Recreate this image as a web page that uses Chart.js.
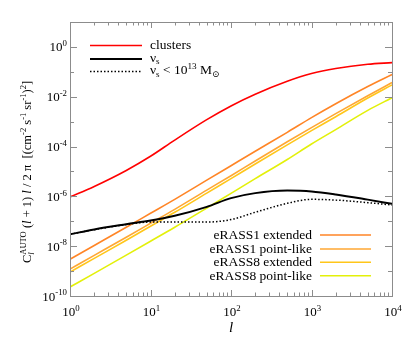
<!DOCTYPE html>
<html>
<head>
<meta charset="utf-8">
<script src="https://cdn.jsdelivr.net/npm/chart.js@4"></script>
<style>
  body { margin: 0; background: #fff; }
  canvas { display: block; }
</style>
</head>
<body>
<canvas id="chart" width="413" height="344"></canvas>
<script>
// multipole l and C_l (l+1) l / 2pi for each component
const ells = [1, 2, 5, 10, 20, 50, 100, 200, 500, 1000, 2000, 5000, 10000];
const clusters = [9.5e-7, 2.51e-6, 1.1e-5, 4.07e-5, 1.82e-4, 1.2e-3, 4.27e-3, 0.0126, 0.0417, 0.0851, 0.135, 0.2, 0.234];
const nuS = [3.0e-8, 4.7e-8, 7.6e-8, 1.07e-7, 1.66e-7, 3.8e-7, 8.5e-7, 1.35e-6, 1.7e-6, 1.58e-6, 1.2e-6, 7.4e-7, 5.0e-7];
const nuSLow = [3.0e-8, 4.6e-8, 7.4e-8, 9.3e-8, 9.3e-8, 9.3e-8, 1.17e-7, 2.3e-7, 5.25e-7, 7.6e-7, 7.1e-7, 5.6e-7, 4.5e-7];
const erass1Ext = [3.0e-9, 1.07e-8, 5.75e-8, 2.09e-7, 7.6e-7, 4.47e-6, 1.7e-5, 6.46e-5, 3.72e-4, 1.45e-3, 5.25e-3, 0.0257, 0.0776];
const erass1Pt = [1.2e-9, 4.27e-9, 2.29e-8, 8.3e-8, 3.02e-7, 1.78e-6, 6.76e-6, 2.63e-5, 1.55e-4, 5.75e-4, 2.09e-3, 0.011, 0.037];
const erass8Ext = [9.1e-10, 3.24e-9, 1.74e-8, 6.3e-8, 2.29e-7, 1.35e-6, 5.13e-6, 2.0e-5, 1.17e-4, 4.37e-4, 1.58e-3, 8.9e-3, 0.03];
const erass8Pt = [2.3e-10, 8.1e-10, 4.37e-9, 1.58e-8, 5.75e-8, 3.39e-7, 1.32e-6, 5.13e-6, 3.02e-5, 1.26e-4, 4.79e-4, 2.82e-3, 9.1e-3];

const xTickExps = [0, 1, 2, 3, 4];
const yTickExps = [-10, -8, -6, -4, -2, 0];

const SERIF = '"Liberation Serif", "DejaVu Serif", serif';
const AXIS = '#8c8c8c';

function fnt(size, it) {
  return (it ? 'italic ' : '') + size + 'px ' + SERIF;
}

// parts: {t, sup, sub, it, keep}  keep = do not advance (stack next part)
function richWidth(ctx, parts, base) {
  let w = 0, held = 0;
  parts.forEach(p => {
    const size = (p.sup || p.sub) ? base * 0.68 : base;
    ctx.font = fnt(size, p.it);
    const pw = ctx.measureText(p.t).width;
    if (p.keep) { held = pw; return; }
    w += Math.max(pw, held);
    held = 0;
  });
  return w;
}

function drawRich(ctx, parts, x, y, base, align) {
  const w = richWidth(ctx, parts, base);
  if (align === 'right') x -= w;
  if (align === 'center') x -= w / 2;
  ctx.textAlign = 'left';
  ctx.textBaseline = 'alphabetic';
  let held = 0;
  parts.forEach(p => {
    const size = (p.sup || p.sub) ? base * 0.68 : base;
    const dy = p.sup ? -base * 0.4 : (p.sub ? base * 0.22 : 0);
    ctx.font = fnt(size, p.it);
    ctx.fillText(p.t, x, y + dy);
    const pw = ctx.measureText(p.t).width;
    if (p.keep) { held = pw; return; }
    x += Math.max(pw, held);
    held = 0;
  });
}

function pts(vals) {
  return ells.map((l, i) => ({ x: l, y: vals[i] }));
}

const frame = {
  id: 'frame',
  afterDraw(chart) {
    const ctx = chart.ctx;
    const a = chart.chartArea;
    const xs = chart.scales.x, ys = chart.scales.y;
    ctx.save();
    ctx.fillStyle = '#000';
    ctx.strokeStyle = AXIS;
    ctx.lineWidth = 1;
    ctx.strokeRect(a.left + 0.5, a.top + 0.5, a.right - a.left, a.bottom - a.top);

    ctx.beginPath();
    for (let e = 0; e <= 4; e++) {
      for (let m = 1; m <= 9; m++) {
        const v = m * Math.pow(10, e);
        if (v > 1e4) break;
        const px = Math.round(xs.getPixelForValue(v)) + 0.5;
        const len = m === 1 ? 6 : 3.5;
        ctx.moveTo(px, a.bottom); ctx.lineTo(px, a.bottom - len);
        ctx.moveTo(px, a.top); ctx.lineTo(px, a.top + len);
      }
    }
    for (let e = -10; e <= 1; e++) {
      const py = Math.round(ys.getPixelForValue(Math.pow(10, e))) + 0.5;
      const len = e % 2 === 0 ? 7 : 4;
      ctx.moveTo(a.left, py); ctx.lineTo(a.left + len, py);
      ctx.moveTo(a.right, py); ctx.lineTo(a.right - len, py);
    }
    ctx.stroke();

    xTickExps.forEach(e => {
      const px = xs.getPixelForValue(Math.pow(10, e));
      drawRich(ctx, [{ t: '10' }, { t: String(e), sup: true }], px + 1, 316, 13, 'center');
    });
    yTickExps.forEach(e => {
      const py = ys.getPixelForValue(Math.pow(10, e));
      drawRich(ctx, [{ t: '10' }, { t: String(e), sup: true }], 67, py + 4.5, 13, 'right');
    });

    ctx.font = fnt(15, true);
    ctx.textAlign = 'center';
    ctx.fillText('l', (a.left + a.right) / 2, 332);

    ctx.save();
    ctx.translate(31, 172);
    ctx.rotate(-Math.PI / 2);
    drawRich(ctx, [
      { t: 'C' }, { t: 'l', sub: true, it: true, keep: true }, { t: 'AUTO', sup: true },
      { t: ' (' }, { t: 'l', it: true }, { t: ' + 1) ' }, { t: 'l', it: true },
      { t: ' / 2 π  [(cm' }, { t: '-2', sup: true }, { t: ' s' }, { t: '-1', sup: true },
      { t: ' sr' }, { t: '-1', sup: true }, { t: ')' }, { t: '2', sup: true }, { t: ']' }
    ], 0, 0, 12.5, 'center');
    ctx.restore();

    // legend, top left
    const top = [
      { y: 45.5, color: '#ff0000', w: 1.6, dash: [], parts: [{ t: 'clusters' }] },
      { y: 59, color: '#000', w: 2, dash: [], parts: [{ t: 'ν' }, { t: 's', sub: true }] },
      { y: 71.5, color: '#000', w: 1.5, dash: [1.5, 2], parts: [{ t: 'ν' }, { t: 's', sub: true }, { t: ' < 10' }, { t: '13', sup: true }, { t: ' M' }, { t: '⊙', sub: true }] }
    ];
    top.forEach((r, i) => {
      ctx.strokeStyle = r.color; ctx.lineWidth = r.w; ctx.setLineDash(r.dash);
      ctx.beginPath(); ctx.moveTo(90, r.y); ctx.lineTo(142, r.y); ctx.stroke();
      ctx.setLineDash([]);
      drawRich(ctx, r.parts, 150, r.y + (i === 0 ? 3.8 : 2.5), 13.5, 'left');
    });

    // legend, bottom right
    const bot = [
      { y: 235, color: '#ff8526', label: 'eRASS1 extended' },
      { y: 249, color: '#ffa733', label: 'eRASS1 point-like' },
      { y: 262.3, color: '#ffc61a', label: 'eRASS8 extended' },
      { y: 275.7, color: '#e3f00a', label: 'eRASS8 point-like' }
    ];
    bot.forEach(r => {
      ctx.strokeStyle = r.color; ctx.lineWidth = 1.6;
      ctx.beginPath(); ctx.moveTo(320, r.y); ctx.lineTo(371, r.y); ctx.stroke();
      drawRich(ctx, [{ t: r.label }], 312, r.y + 3.8, 13.5, 'right');
    });
    ctx.restore();
  }
};

new Chart(document.getElementById('chart'), {
  type: 'line',
  data: {
    datasets: [
      { label: 'clusters', data: pts(clusters), borderColor: '#ff0000', borderWidth: 1.6 },
      { label: 'nu_s', data: pts(nuS), borderColor: '#000000', borderWidth: 2 },
      { label: 'nu_s < 1e13', data: pts(nuSLow), borderColor: '#000000', borderWidth: 1.5, borderDash: [1.5, 2] },
      { label: 'eRASS1 extended', data: pts(erass1Ext), borderColor: '#ff8526', borderWidth: 1.6 },
      { label: 'eRASS1 point-like', data: pts(erass1Pt), borderColor: '#ffa733', borderWidth: 1.6 },
      { label: 'eRASS8 extended', data: pts(erass8Ext), borderColor: '#ffc61a', borderWidth: 1.6 },
      { label: 'eRASS8 point-like', data: pts(erass8Pt), borderColor: '#e3f00a', borderWidth: 1.6 }
    ]
  },
  options: {
    responsive: false,
    animation: false,
    layout: { padding: { left: 70, right: 21, top: 22, bottom: 48 } },
    elements: {
      point: { radius: 0 },
      line: { cubicInterpolationMode: 'monotone', fill: false }
    },
    plugins: { legend: { display: false }, tooltip: { enabled: false } },
    scales: {
      x: { type: 'logarithmic', min: 1, max: 10000, display: false },
      y: { type: 'logarithmic', min: 1e-10, max: 10, display: false }
    }
  },
  plugins: [frame]
});
</script>
</body>
</html>
